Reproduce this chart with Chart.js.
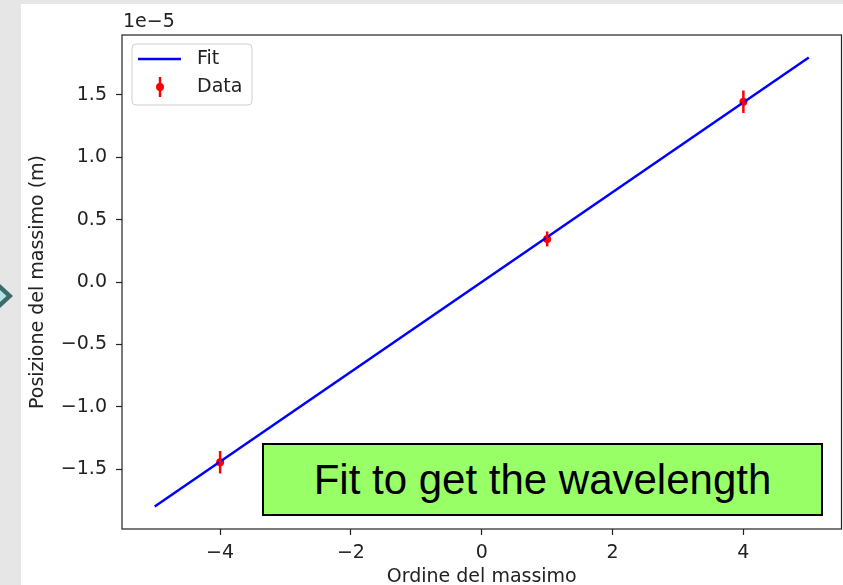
<!DOCTYPE html>
<html>
<head>
<meta charset="utf-8">
<script src="https://cdn.jsdelivr.net/npm/chart.js@4/dist/chart.umd.min.js"></script>
<style>
  html, body { margin: 0; padding: 0; }
  body { width: 843px; height: 585px; background: #e6e6e6; position: relative; overflow: hidden; }
  #sheet { position: absolute; left: 21px; top: 4px; width: 822px; height: 581px; background: #fff; }
  #chart { position: absolute; left: 0; top: 0; }
  #arrow { position: absolute; left: 0; top: 284px; }
  #note {
    position: absolute; left: 262px; top: 443px; width: 557px; height: 69px;
    background: #99ff66; border: 2px solid #000;
    display: flex; align-items: center; justify-content: center;
    font-family: "Liberation Sans", Arial, sans-serif; font-size: 42px; color: #000;
  }
</style>
</head>
<body>
<svg id="arrow" width="14" height="26" viewBox="0 0 14 26">
  <polygon points="0,0 13,12 0,24" fill="#3d6a6a"/>
  <polygon points="0,6 6.5,12 0,18" fill="#b5e3e3"/>
</svg>
<div id="sheet">
  <canvas id="chart" width="822" height="581"></canvas>
</div>
<div id="note">Fit to get the wavelength</div>
<script>
const fitX = [-5, 5];
const fitY = [-1.8e-5, 1.8e-5];
const dataX = [-4, 1, 4];
const dataY = [-1.445e-5, 0.345e-5, 1.445e-5];
const dataErr = [0.09e-5, 0.06e-5, 0.09e-5];
const xTicks = [-4, -2, 0, 2, 4];
const yTicks = [-1.5e-5, -1.0e-5, -0.5e-5, 0, 0.5e-5, 1.0e-5, 1.5e-5];

const INK = '#222';
const FONT = 'DejaVu Sans';

Chart.defaults.font.family = FONT;
Chart.defaults.font.size = 19;
Chart.defaults.color = INK;

const minus = s => s.replace('-', '\u2212');

// error bars, frame, legend box and offset text
const extras = {
  id: 'extras',
  afterDatasetsDraw(chart) {
    const { ctx, scales: { x, y } } = chart;
    ctx.save();
    ctx.strokeStyle = '#ff0000';
    ctx.lineWidth = 2.5;
    dataX.forEach((v, i) => {
      const px = x.getPixelForValue(v);
      ctx.beginPath();
      ctx.moveTo(px, y.getPixelForValue(dataY[i] - dataErr[i]));
      ctx.lineTo(px, y.getPixelForValue(dataY[i] + dataErr[i]));
      ctx.stroke();
    });
    ctx.restore();
  },
  afterDraw(chart) {
    const { ctx, chartArea: a } = chart;
    ctx.save();
    ctx.strokeStyle = INK;
    ctx.lineWidth = 1.2;
    ctx.strokeRect(a.left, a.top, a.right - a.left, a.bottom - a.top);

    ctx.font = `19px "${FONT}"`;
    ctx.fillStyle = INK;
    ctx.textBaseline = 'middle';
    ctx.textAlign = 'left';
    ctx.fillText('1e\u22125', a.left + 1, a.top - 13);

    // legend
    const bx = a.left + 10, by = a.top + 9, bw = 120, bh = 61;
    ctx.beginPath();
    ctx.roundRect(bx, by, bw, bh, 4);
    ctx.fillStyle = 'rgba(255,255,255,0.8)';
    ctx.fill();
    ctx.strokeStyle = '#d0d0d0';
    ctx.lineWidth = 1;
    ctx.stroke();

    const ds = chart.data.datasets;
    ctx.strokeStyle = ds[0].borderColor;
    ctx.lineWidth = 2.5;
    ctx.beginPath();
    ctx.moveTo(bx + 6, by + 15);
    ctx.lineTo(bx + 49, by + 15);
    ctx.stroke();

    ctx.strokeStyle = ds[1].backgroundColor;
    ctx.beginPath();
    ctx.moveTo(bx + 28, by + 33);
    ctx.lineTo(bx + 28, by + 53);
    ctx.stroke();
    ctx.fillStyle = ds[1].backgroundColor;
    ctx.beginPath();
    ctx.arc(bx + 28, by + 43, 4, 0, Math.PI * 2);
    ctx.fill();

    ctx.fillStyle = INK;
    ctx.fillText(ds[0].label, bx + 65, by + 15);
    ctx.fillText(ds[1].label, bx + 65, by + 43);
    ctx.restore();
  }
};

new Chart(document.getElementById('chart'), {
  type: 'scatter',
  data: {
    datasets: [
      {
        label: 'Fit',
        data: fitX.map((v, i) => ({ x: v, y: fitY[i] })),
        showLine: true,
        borderColor: '#0000ff',
        backgroundColor: '#0000ff',
        borderWidth: 2.5,
        pointRadius: 0,
      },
      {
        label: 'Data',
        data: dataX.map((v, i) => ({ x: v, y: dataY[i] })),
        borderColor: '#ff0000',
        backgroundColor: '#ff0000',
        pointRadius: 4,
        borderWidth: 0,
      },
    ],
  },
  options: {
    responsive: false,
    animation: false,
    layout: { autoPadding: false, padding: { top: 31, right: 1.5, left: 0, bottom: 0 } },
    plugins: { legend: { display: false }, tooltip: { enabled: false } },
    scales: {
      x: {
        type: 'linear',
        min: -5.5,
        max: 5.5,
        afterBuildTicks: s => { s.ticks = xTicks.map(v => ({ value: v })); },
        afterFit: s => { s.height = 56; s.paddingLeft = 0; s.paddingRight = 0; },
        border: { display: false },
        grid: { drawOnChartArea: false, tickLength: 6, tickColor: INK, tickWidth: 1.2 },
        ticks: { padding: 7, color: INK, callback: v => minus(String(v)) },
        title: {
          display: true, text: 'Ordine del massimo', color: INK,
          font: { lineHeight: 0.8 }, padding: { top: 0, bottom: 0 },
        },
      },
      y: {
        type: 'linear',
        min: -1.98e-5,
        max: 1.98e-5,
        afterBuildTicks: s => { s.ticks = yTicks.map(v => ({ value: v })); },
        afterFit: s => { s.width = 101; s.paddingTop = 0; s.paddingBottom = 0; },
        border: { display: false },
        grid: { drawOnChartArea: false, tickLength: 6, tickColor: INK, tickWidth: 1.2 },
        ticks: { padding: 9, color: INK, callback: v => minus((v * 1e5).toFixed(1)) },
        title: { display: true, text: 'Posizione del massimo (m)', color: INK, padding: { top: 6, bottom: 0 } },
      },
    },
  },
  plugins: [extras],
});
</script>
</body>
</html>
